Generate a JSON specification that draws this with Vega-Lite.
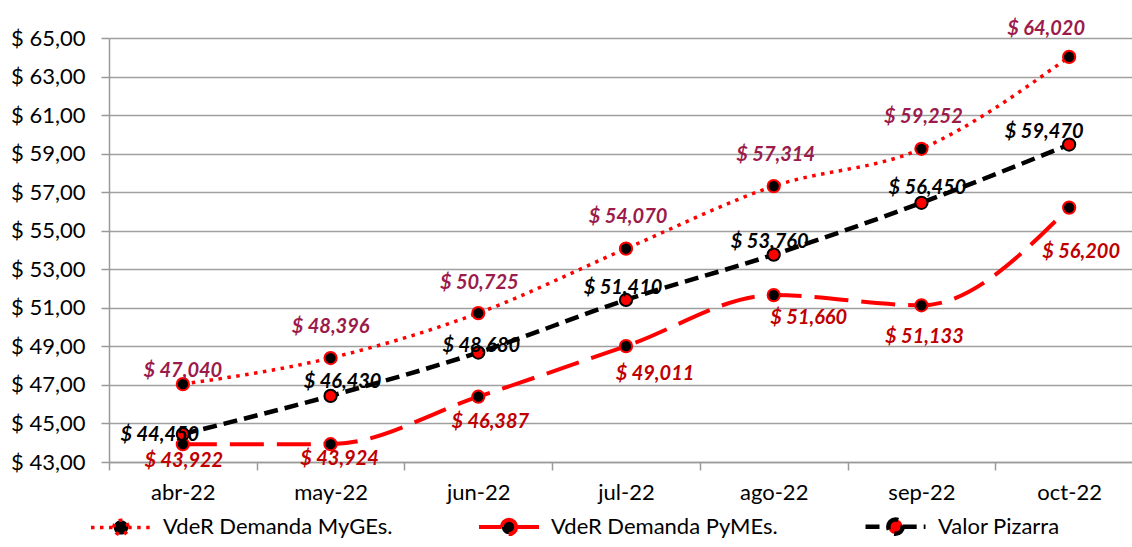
{
  "$schema": "https://vega.github.io/schema/vega-lite/v6.json",
  "width": 1023,
  "height": 424,
  "autosize": {"type": "none"},
  "padding": {"left": 109, "top": 38, "right": 0, "bottom": 85},
  "background": "white",
  "data": {
    "values": [
      {"month": "abr-22", "series": "VdeR Demanda MyGEs.", "value": 47.040},
      {"month": "may-22", "series": "VdeR Demanda MyGEs.", "value": 48.396},
      {"month": "jun-22", "series": "VdeR Demanda MyGEs.", "value": 50.725},
      {"month": "jul-22", "series": "VdeR Demanda MyGEs.", "value": 54.070},
      {"month": "ago-22", "series": "VdeR Demanda MyGEs.", "value": 57.314},
      {"month": "sep-22", "series": "VdeR Demanda MyGEs.", "value": 59.252},
      {"month": "oct-22", "series": "VdeR Demanda MyGEs.", "value": 64.020},
      {"month": "abr-22", "series": "VdeR Demanda PyMEs.", "value": 43.922},
      {"month": "may-22", "series": "VdeR Demanda PyMEs.", "value": 43.924},
      {"month": "jun-22", "series": "VdeR Demanda PyMEs.", "value": 46.387},
      {"month": "jul-22", "series": "VdeR Demanda PyMEs.", "value": 49.011},
      {"month": "ago-22", "series": "VdeR Demanda PyMEs.", "value": 51.660},
      {"month": "sep-22", "series": "VdeR Demanda PyMEs.", "value": 51.133},
      {"month": "oct-22", "series": "VdeR Demanda PyMEs.", "value": 56.200},
      {"month": "abr-22", "series": "Valor Pizarra", "value": 44.450},
      {"month": "may-22", "series": "Valor Pizarra", "value": 46.430},
      {"month": "jun-22", "series": "Valor Pizarra", "value": 48.680},
      {"month": "jul-22", "series": "Valor Pizarra", "value": 51.410},
      {"month": "ago-22", "series": "Valor Pizarra", "value": 53.760},
      {"month": "sep-22", "series": "Valor Pizarra", "value": 56.450},
      {"month": "oct-22", "series": "Valor Pizarra", "value": 59.470}
    ]
  },
  "encoding": {
    "x": {
      "field": "month",
      "type": "nominal",
      "sort": ["abr-22", "may-22", "jun-22", "jul-22", "ago-22", "sep-22", "oct-22"],
      "scale": {"type": "band", "range": [0, 1034], "paddingInner": 0, "paddingOuter": 0},
      "axis": {
        "title": null,
        "labelAngle": 0,
        "labelFont": "Lato",
        "labelFontSize": 22,
        "labelColor": "#000000",
        "tickBand": "extent",
        "tickSize": 8,
        "tickColor": "#9a9a9a",
        "tickWidth": 1.5,
        "domainColor": "#9a9a9a",
        "domainWidth": 1.5,
        "labelPadding": 12,
        "grid": false
      }
    },
    "y": {
      "field": "value",
      "type": "quantitative",
      "scale": {"domain": [43, 65], "nice": false, "zero": false},
      "axis": {
        "title": null,
        "values": [43, 45, 47, 49, 51, 53, 55, 57, 59, 61, 63, 65],
        "format": "$.2f",
        "labelFont": "Lato",
        "labelFontSize": 22,
        "labelColor": "#000000",
        "tickSize": 8,
        "tickColor": "#9a9a9a",
        "tickWidth": 1.5,
        "domainColor": "#9a9a9a",
        "domainWidth": 1.5,
        "labelPadding": 16,
        "grid": true,
        "gridColor": "#a0a0a0",
        "gridWidth": 1.5
      }
    }
  },
  "layer": [
    {
      "mark": {"type": "line", "interpolate": "monotone"},
      "encoding": {
        "stroke": {
          "field": "series", "type": "nominal",
          "scale": {"domain": ["VdeR Demanda MyGEs.", "VdeR Demanda PyMEs.", "Valor Pizarra"], "range": ["#ff0000", "#ff0000", "#000000"]},
          "legend": {"title": null, "orient": "none", "legendX": -20, "legendY": 456, "direction": "horizontal", "symbolType": "M-1,0L-0.24,0M0.24,0L1,0M-0.24,0A0.24,0.24,0,1,1,0.24,0A0.24,0.24,0,1,1,-0.24,0Z"}
        },
        "strokeDash": {
          "field": "series", "type": "nominal",
          "scale": {"domain": ["VdeR Demanda MyGEs.", "VdeR Demanda PyMEs.", "Valor Pizarra"], "range": [[3.5, 5.5], [34, 13], [14, 7]]},
          "legend": {"title": null, "orient": "none", "legendX": -20, "legendY": 456, "direction": "horizontal", "symbolType": "M-1,0L-0.24,0M0.24,0L1,0M-0.24,0A0.24,0.24,0,1,1,0.24,0A0.24,0.24,0,1,1,-0.24,0Z"}
        },
        "strokeWidth": {
          "field": "series", "type": "ordinal",
          "scale": {"domain": ["VdeR Demanda MyGEs.", "VdeR Demanda PyMEs.", "Valor Pizarra"], "range": [3.5, 4.5, 5.5]},
          "legend": null
        }
      }
    },
    {
      "mark": {"type": "point", "filled": true, "size": 150, "strokeWidth": 2, "opacity": 1},
      "encoding": {
        "stroke": {
          "field": "series", "type": "nominal",
          "scale": {"domain": ["VdeR Demanda MyGEs.", "VdeR Demanda PyMEs.", "Valor Pizarra"], "range": ["#ff0000", "#ff0000", "#000000"]},
          "legend": {"title": null, "orient": "none", "legendX": -20, "legendY": 456, "direction": "horizontal", "symbolType": "M-1,0L-0.24,0M0.24,0L1,0M-0.24,0A0.24,0.24,0,1,1,0.24,0A0.24,0.24,0,1,1,-0.24,0Z"}
        },
        "fill": {
          "field": "series", "type": "nominal",
          "scale": {"domain": ["VdeR Demanda MyGEs.", "VdeR Demanda PyMEs.", "Valor Pizarra"], "range": ["#000000", "#000000", "#ff0000"]},
          "legend": {"title": null, "orient": "none", "legendX": -20, "legendY": 456, "direction": "horizontal", "symbolType": "M-1,0L-0.24,0M0.24,0L1,0M-0.24,0A0.24,0.24,0,1,1,0.24,0A0.24,0.24,0,1,1,-0.24,0Z"}
        }
      }
    },
    {
      "transform": [{"filter": "datum.series === 'VdeR Demanda MyGEs.'"}],
      "mark": {
        "type": "text", "font": "Lato", "fontSize": 20, "fontWeight": "bold", "fontStyle": "italic",
        "color": "#9b1b4b", "align": "center", "baseline": "middle",
        "dx": {"expr": "({'abr-22': 0, 'may-22': 0, 'jun-22': 1, 'jul-22': 2, 'ago-22': 2, 'sep-22': 2, 'oct-22': -23})[datum.month]"},
        "dy": {"expr": "({'abr-22': -13, 'may-22': -31, 'jun-22': -30, 'jul-22': -32, 'ago-22': -31, 'sep-22': -32, 'oct-22': -28})[datum.month]"}
      },
      "encoding": {"text": {"field": "value", "type": "quantitative", "format": "$.3f"}}
    },
    {
      "transform": [{"filter": "datum.series === 'VdeR Demanda PyMEs.'"}],
      "mark": {
        "type": "text", "font": "Lato", "fontSize": 20, "fontWeight": "bold", "fontStyle": "italic",
        "color": "#c00000", "align": "center", "baseline": "middle",
        "dx": {"expr": "({'abr-22': 1, 'may-22': 9, 'jun-22': 12, 'jul-22': 29, 'ago-22': 35, 'sep-22': 3, 'oct-22': 12})[datum.month]"},
        "dy": {"expr": "({'abr-22': 17, 'may-22': 15, 'jun-22': 25, 'jul-22': 28, 'ago-22': 23, 'sep-22': 32, 'oct-22': 44})[datum.month]"}
      },
      "encoding": {"text": {"field": "value", "type": "quantitative", "format": "$.3f"}}
    },
    {
      "transform": [{"filter": "datum.series === 'Valor Pizarra'"}],
      "mark": {
        "type": "text", "font": "Lato", "fontSize": 20, "fontWeight": "bold", "fontStyle": "italic",
        "color": "#000000", "align": "center", "baseline": "middle",
        "dx": {"expr": "({'abr-22': -23, 'may-22': 12, 'jun-22': 3, 'jul-22': -3, 'ago-22': -4, 'sep-22': 6, 'oct-22': -25})[datum.month]"},
        "dy": {"expr": "({'abr-22': 1, 'may-22': -14, 'jun-22': -7, 'jul-22': -12, 'ago-22': -13, 'sep-22': -15, 'oct-22': -13})[datum.month]"}
      },
      "encoding": {"text": {"field": "value", "type": "quantitative", "format": "$.3f"}}
    }
  ],
  "config": {
    "locale": {"number": {"decimal": ",", "thousands": ".", "grouping": [3], "currency": ["$ ", ""]}},
    "view": {"stroke": null},
    "legend": {
      "padding": 0,
      "gridAlign": "each",
      "columnPadding": 78,
      "symbolSize": 3600,
      "symbolStrokeWidth": 3,
      "labelFont": "Lato",
      "labelFontSize": 22,
      "labelColor": "#000000",
      "labelOffset": 10,
      "labelLimit": 400
    }
  }
}
